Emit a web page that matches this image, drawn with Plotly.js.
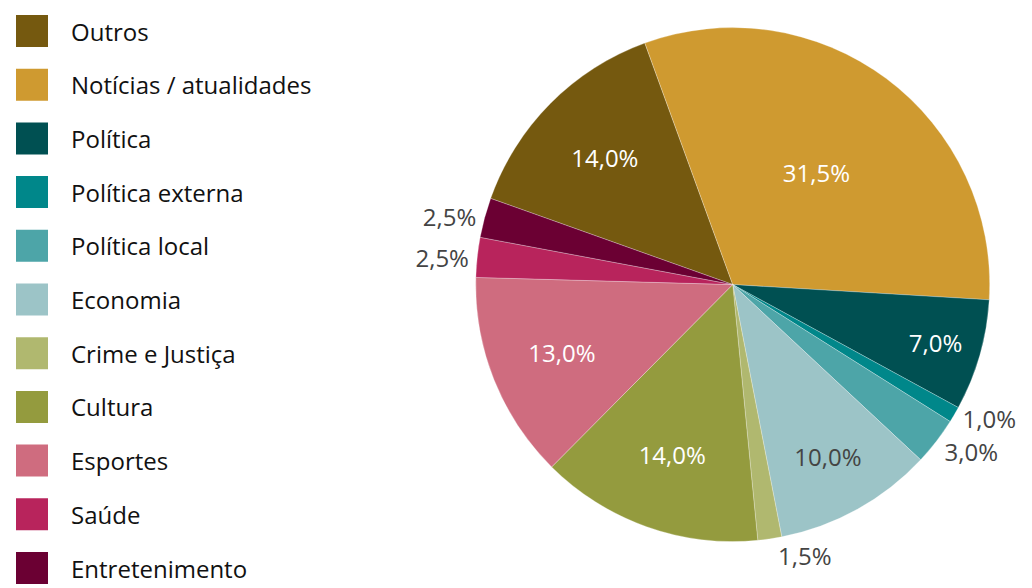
<!DOCTYPE html>
<html>
<head>
<meta charset="utf-8">
<script src="https://cdn.plot.ly/plotly-3.0.1.min.js"></script>
<style>html,body{margin:0;padding:0;background:#fff;}#chart{width:1032px;height:588px;}#chart .textline{display:none;}</style>
</head>
<body>
<div id="chart"></div>
<script>
const labels = ["Outros", "Notícias / atualidades", "Política", "Política externa", "Política local", "Economia", "Crime e Justiça", "Cultura", "Esportes", "Saúde", "Entretenimento"];
const values = [14.0, 31.5, 7.0, 1.0, 3.0, 10.0, 1.5, 14.0, 13.0, 2.5, 2.5];
const colors = ["#75590F", "#CF9A30", "#005052", "#00878A", "#4DA5A8", "#9CC4C7", "#B0B86F", "#949B3E", "#CF6C7F", "#B8245C", "#6B0033"];
const textPositions = ["inside", "inside", "inside", "outside", "outside", "inside", "outside", "inside", "inside", "outside", "outside"];
const textColors = ["#ffffff", "#ffffff", "#ffffff", "#444444", "#444444", "#444444", "#444444", "#ffffff", "#ffffff", "#444444", "#444444"];

const FONT = "Open Sans, Noto Sans, sans-serif";

const trace = {
  type: "pie",
  labels: labels,
  values: values,
  sort: false,
  direction: "clockwise",
  rotation: -70.4,
  marker: { colors: colors, line: { color: "rgba(255,255,255,0.45)", width: 0.6 } },
  texttemplate: "%{value:.1f}%",
  textposition: textPositions,
  insidetextorientation: "horizontal",
  textfont: { family: FONT, size: 24, color: textColors },
  hoverinfo: "label+value",
  showlegend: false,
  automargin: false,
  domain: { x: [0.461, 0.959], y: [0.078, 0.954] }
};

const shapes = [];
const annotations = [];
const rowTop = 15, rowStep = 53.7, box = 32;
labels.forEach((lab, i) => {
  const y0 = rowTop + i * rowStep;
  shapes.push({
    type: "rect", xref: "paper", yref: "paper",
    x0: 16 / 1032, x1: (16 + box) / 1032,
    y0: 1 - (y0 + box) / 588, y1: 1 - y0 / 588,
    fillcolor: colors[i], line: { width: 0 }
  });
  annotations.push({
    xref: "paper", yref: "paper",
    x: 69 / 1032, y: 1 - (y0 + box / 2) / 588,
    xanchor: "left", yanchor: "middle",
    text: lab, showarrow: false,
    font: { family: FONT, size: 24, color: "#111111" }
  });
});

const layout = {
  width: 1032, height: 588,
  margin: { l: 0, r: 0, t: 0, b: 0 },
  paper_bgcolor: "#ffffff",
  separators: ",.",
  showlegend: false,
  shapes: shapes,
  annotations: annotations
};

Plotly.newPlot("chart", [trace], layout, { displayModeBar: false, staticPlot: true });
</script>
</body>
</html>
